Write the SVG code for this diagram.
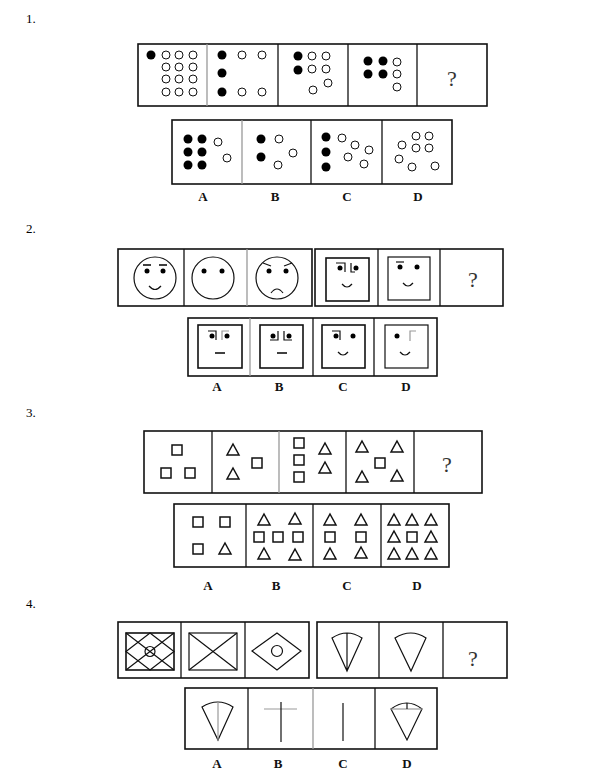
<svg xmlns="http://www.w3.org/2000/svg" xmlns:xlink="http://www.w3.org/1999/xlink" width="611" height="784" viewBox="0 0 611 784">
<style>
.box{fill:none;stroke:#111;stroke-width:1.6}
.dv{stroke:#111;stroke-width:1.3}
.dg{stroke:#999;stroke-width:1.3}
.oc{fill:#fff;stroke:#111;stroke-width:1}
.fc{fill:#000}
.ln{fill:none;stroke:#111;stroke-width:1.2}
.lg{fill:none;stroke:#999;stroke-width:1.2}
.th{fill:none;stroke:#111;stroke-width:1.6}
.num{font-family:"Liberation Serif",serif;font-size:13px;fill:#000}
.lab{font-family:"Liberation Serif",serif;font-size:13px;font-weight:bold;fill:#111;text-anchor:middle}
.q{font-family:"Liberation Serif",serif;font-size:22px;fill:#333;text-anchor:middle}
.shape{fill:#fff;stroke:#111;stroke-width:1.5}
</style>
<defs>
<path id="tri" d="M0,-6 L6,5 L-6,5 Z" class="shape"/>
<rect id="sq" x="-5" y="-5" width="10" height="10" class="shape"/>
</defs>

<text class="num" x="26" y="23">1.</text>
<text class="num" x="26" y="233">2.</text>
<text class="num" x="26" y="417">3.</text>
<text class="num" x="26" y="608">4.</text>

<g id="p1-row">
<rect class="box" x="138" y="44" width="349" height="62"/>
<line class="dg" x1="207" y1="44" x2="207" y2="106"/>
<line class="dv" x1="278" y1="44" x2="278" y2="106"/>
<line class="dv" x1="348" y1="44" x2="348" y2="106"/>
<line class="dv" x1="417" y1="44" x2="417" y2="106"/>
<g id="p1c1">
<circle class="fc" cx="151" cy="55" r="4.5"/>
<circle class="oc" cx="166" cy="55" r="4"/><circle class="oc" cx="179" cy="55" r="4"/><circle class="oc" cx="193" cy="55" r="4"/>
<circle class="oc" cx="166" cy="67" r="4"/><circle class="oc" cx="179" cy="67" r="4"/><circle class="oc" cx="193" cy="67" r="4"/>
<circle class="oc" cx="166" cy="79" r="4"/><circle class="oc" cx="179" cy="79" r="4"/><circle class="oc" cx="193" cy="79" r="4"/>
<circle class="oc" cx="166" cy="92" r="4"/><circle class="oc" cx="179" cy="92" r="4"/><circle class="oc" cx="193" cy="92" r="4"/>
</g>
<g id="p1c2">
<circle class="fc" cx="222" cy="55" r="4.5"/><circle class="fc" cx="222" cy="73" r="4.5"/><circle class="fc" cx="222" cy="92" r="4.5"/>
<circle class="oc" cx="242" cy="55" r="4"/><circle class="oc" cx="262" cy="55" r="4"/>
<circle class="oc" cx="242" cy="92" r="4"/><circle class="oc" cx="262" cy="92" r="4"/>
</g>
<g id="p1c3">
<circle class="fc" cx="298" cy="56" r="4.5"/><circle class="fc" cx="298" cy="70" r="4.5"/>
<circle class="oc" cx="312" cy="56" r="4"/><circle class="oc" cx="326" cy="56" r="4"/>
<circle class="oc" cx="312" cy="69" r="4"/><circle class="oc" cx="326" cy="69" r="4"/>
<circle class="oc" cx="313" cy="90" r="4"/><circle class="oc" cx="328" cy="83" r="4"/>
</g>
<g id="p1c4">
<circle class="fc" cx="368" cy="61" r="4.5"/><circle class="fc" cx="383" cy="61" r="4.5"/>
<circle class="fc" cx="368" cy="74" r="4.5"/><circle class="fc" cx="383" cy="74" r="4.5"/>
<circle class="oc" cx="397" cy="62" r="4"/><circle class="oc" cx="397" cy="74" r="4"/><circle class="oc" cx="397" cy="87" r="4"/>
</g>
<text class="q" x="452" y="86">?</text>
</g>

<g id="p1-answers">
<rect class="box" x="172" y="120" width="280" height="64"/>
<line class="dg" x1="242" y1="120" x2="242" y2="184"/>
<line class="dv" x1="311" y1="120" x2="311" y2="184"/>
<line class="dv" x1="382" y1="120" x2="382" y2="184"/>
<g id="p1a">
<circle class="fc" cx="188" cy="139" r="4.5"/><circle class="fc" cx="202" cy="139" r="4.5"/>
<circle class="fc" cx="188" cy="152" r="4.5"/><circle class="fc" cx="202" cy="152" r="4.5"/>
<circle class="fc" cx="188" cy="165" r="4.5"/><circle class="fc" cx="202" cy="165" r="4.5"/>
<circle class="oc" cx="218" cy="142" r="4"/><circle class="oc" cx="227" cy="158" r="4"/>
</g>
<g id="p1b">
<circle class="fc" cx="261" cy="139" r="4.5"/><circle class="fc" cx="261" cy="157" r="4.5"/>
<circle class="oc" cx="279" cy="139" r="4"/><circle class="oc" cx="293" cy="153" r="4"/><circle class="oc" cx="278" cy="165" r="4"/>
</g>
<g id="p1c">
<circle class="fc" cx="326" cy="137" r="4.5"/><circle class="fc" cx="326" cy="152" r="4.5"/><circle class="fc" cx="326" cy="167" r="4.5"/>
<circle class="oc" cx="342" cy="138" r="4"/><circle class="oc" cx="355" cy="145" r="4"/><circle class="oc" cx="369" cy="150" r="4"/>
<circle class="oc" cx="348" cy="157" r="4"/><circle class="oc" cx="364" cy="164" r="4"/>
</g>
<g id="p1d">
<circle class="oc" cx="416" cy="136" r="4"/><circle class="oc" cx="429" cy="136" r="4"/>
<circle class="oc" cx="402" cy="145" r="4"/><circle class="oc" cx="416" cy="148" r="4"/><circle class="oc" cx="429" cy="148" r="4"/>
<circle class="oc" cx="399" cy="159" r="4"/><circle class="oc" cx="412" cy="167" r="4"/><circle class="oc" cx="435" cy="166" r="4"/>
</g>
<text class="lab" x="203" y="201">A</text>
<text class="lab" x="275" y="201">B</text>
<text class="lab" x="347" y="201">C</text>
<text class="lab" x="418" y="201">D</text>
</g>

<g id="p2-row">
<rect class="box" x="118" y="249" width="194" height="57"/>
<line class="dv" x1="184" y1="249" x2="184" y2="306"/>
<line class="dg" x1="247" y1="249" x2="247" y2="306"/>
<rect class="box" x="315" y="249" width="188" height="57"/>
<line class="dv" x1="378" y1="249" x2="378" y2="306"/>
<line class="dv" x1="440" y1="249" x2="440" y2="306"/>
<g id="p2c1">
<circle class="ln" cx="155" cy="278" r="21"/>
<circle class="fc" cx="147" cy="271" r="2.5"/><circle class="fc" cx="163" cy="271" r="2.5"/>
<line class="th" x1="143" y1="265" x2="151" y2="265"/><line class="th" x1="159" y1="265" x2="167" y2="265"/>
<path class="ln" d="M149,286 Q155,293 161,286"/>
</g>
<g id="p2c2">
<circle class="ln" cx="213" cy="278" r="21"/>
<circle class="fc" cx="204" cy="271" r="2.5"/><circle class="fc" cx="222" cy="271" r="2.5"/>
</g>
<g id="p2c3">
<circle class="ln" cx="277" cy="278" r="21"/>
<circle class="fc" cx="269" cy="271" r="2.5"/><circle class="fc" cx="286" cy="271" r="2.5"/>
<line class="ln" x1="263" y1="263" x2="271" y2="266"/><line class="ln" x1="284" y1="266" x2="292" y2="263"/>
<path class="ln" d="M271,293 Q277,285 283,293"/>
</g>
<g id="p2c4">
<rect class="th" x="326" y="258" width="43" height="43"/>
<circle class="fc" cx="340" cy="268" r="2.5"/>
<path class="ln" d="M336,263 H345 V272"/>
<circle class="fc" cx="356" cy="268" r="2.5"/>
<path class="ln" d="M351,263 V272 H355"/>
<path class="ln" d="M342,284 Q347,290 352,284"/>
</g>
<g id="p2c5">
<rect class="ln" x="388" y="257" width="42" height="43"/>
<circle class="fc" cx="400" cy="267" r="2.5"/>
<line class="ln" x1="396" y1="262" x2="404" y2="262"/>
<circle class="fc" cx="417" cy="267" r="2.5"/>
<path class="ln" d="M403,283 Q408,289 413,283"/>
</g>
<text class="q" x="473" y="287">?</text>
</g>

<g id="p2-answers">
<rect class="box" x="188" y="318" width="249" height="58"/>
<line class="dg" x1="250" y1="318" x2="250" y2="376"/>
<line class="dv" x1="313" y1="318" x2="313" y2="376"/>
<line class="dv" x1="374" y1="318" x2="374" y2="376"/>
<g id="p2a">
<rect class="th" x="198" y="325" width="44" height="43"/>
<circle class="fc" cx="212" cy="336" r="2.5"/><path class="ln" d="M208,331 H216 V340"/>
<circle class="fc" cx="227" cy="336" r="2.5"/><path class="lg" d="M222,340 V331 H229"/>
<line class="th" x1="215" y1="353" x2="225" y2="353"/>
</g>
<g id="p2b">
<rect class="th" x="260" y="325" width="43" height="43"/>
<circle class="fc" cx="273" cy="336" r="2.5"/><path class="ln" d="M270,340 H278 V331"/>
<circle class="fc" cx="289" cy="336" r="2.5"/><path class="ln" d="M284,331 V340 H292"/>
<line class="th" x1="277" y1="353" x2="287" y2="353"/>
</g>
<g id="p2c">
<rect class="th" x="322" y="325" width="43" height="43"/>
<circle class="fc" cx="336" cy="336" r="2.5"/><path class="ln" d="M332,331 H340 V340"/>
<circle class="fc" cx="353" cy="336" r="2.5"/>
<path class="ln" d="M338,352 Q343,358 348,352"/>
</g>
<g id="p2d">
<rect class="ln" x="385" y="325" width="43" height="43"/>
<circle class="fc" cx="397" cy="336" r="2.5"/>
<path class="lg" d="M410,341 V331 H416"/>
<path class="ln" d="M400,352 Q405,358 410,352"/>
</g>
<text class="lab" x="217" y="391">A</text>
<text class="lab" x="279" y="391">B</text>
<text class="lab" x="343" y="391">C</text>
<text class="lab" x="406" y="391">D</text>
</g>

<g id="p3-row">
<rect class="box" x="144" y="431" width="338" height="62"/>
<line class="dv" x1="212" y1="431" x2="212" y2="493"/>
<line class="dg" x1="279" y1="431" x2="279" y2="493"/>
<line class="dv" x1="346" y1="431" x2="346" y2="493"/>
<line class="dv" x1="414" y1="431" x2="414" y2="493"/>
<g id="p3c1">
<use xlink:href="#sq" x="177" y="450"/><use xlink:href="#sq" x="166" y="473"/><use xlink:href="#sq" x="190" y="473"/>
</g>
<g id="p3c2">
<use xlink:href="#tri" x="233" y="450"/><use xlink:href="#tri" x="233" y="474"/><use xlink:href="#sq" x="257" y="463"/>
</g>
<g id="p3c3">
<use xlink:href="#sq" x="299" y="443"/><use xlink:href="#sq" x="299" y="460"/><use xlink:href="#sq" x="299" y="477"/>
<use xlink:href="#tri" x="325" y="449"/><use xlink:href="#tri" x="325" y="468"/>
</g>
<g id="p3c4">
<use xlink:href="#tri" x="362" y="447"/><use xlink:href="#tri" x="397" y="447"/>
<use xlink:href="#tri" x="362" y="477"/><use xlink:href="#tri" x="397" y="476"/>
<use xlink:href="#sq" x="380" y="463"/>
</g>
<text class="q" x="447" y="472">?</text>
</g>

<g id="p3-answers">
<rect class="box" x="174" y="504" width="275" height="63"/>
<line class="dv" x1="246" y1="504" x2="246" y2="567"/>
<line class="dv" x1="313" y1="504" x2="313" y2="567"/>
<line class="dv" x1="381" y1="504" x2="381" y2="567"/>
<g id="p3a">
<use xlink:href="#sq" x="198" y="522"/><use xlink:href="#sq" x="225" y="522"/>
<use xlink:href="#sq" x="198" y="549"/><use xlink:href="#tri" x="225" y="549"/>
</g>
<g id="p3b">
<use xlink:href="#tri" x="264" y="520"/><use xlink:href="#tri" x="295" y="519"/>
<use xlink:href="#sq" x="259" y="537"/><use xlink:href="#sq" x="278" y="537"/><use xlink:href="#sq" x="298" y="537"/>
<use xlink:href="#tri" x="264" y="554"/><use xlink:href="#tri" x="295" y="555"/>
</g>
<g id="p3c">
<use xlink:href="#tri" x="330" y="520"/><use xlink:href="#tri" x="361" y="520"/>
<use xlink:href="#sq" x="330" y="537"/><use xlink:href="#sq" x="361" y="537"/>
<use xlink:href="#tri" x="330" y="554"/><use xlink:href="#tri" x="361" y="553"/>
</g>
<g id="p3d">
<use xlink:href="#tri" x="394" y="520"/><use xlink:href="#tri" x="412" y="520"/><use xlink:href="#tri" x="431" y="520"/>
<use xlink:href="#tri" x="394" y="537"/><use xlink:href="#sq" x="412" y="537"/><use xlink:href="#tri" x="431" y="537"/>
<use xlink:href="#tri" x="394" y="554"/><use xlink:href="#tri" x="412" y="554"/><use xlink:href="#tri" x="431" y="554"/>
</g>
<text class="lab" x="208" y="590">A</text>
<text class="lab" x="276" y="590">B</text>
<text class="lab" x="347" y="590">C</text>
<text class="lab" x="417" y="590">D</text>
</g>

<g id="p4-row">
<rect class="box" x="118" y="622" width="191" height="56"/>
<line class="dv" x1="181" y1="622" x2="181" y2="678"/>
<line class="dv" x1="245" y1="622" x2="245" y2="678"/>
<rect class="box" x="317" y="622" width="190" height="56"/>
<line class="dv" x1="379" y1="622" x2="379" y2="678"/>
<line class="dv" x1="443" y1="622" x2="443" y2="678"/>
<g id="p4c1">
<rect class="th" x="126" y="633" width="48" height="37"/>
<path class="ln" d="M126,633 L174,670 M174,633 L126,670 M150,633 L174,651.5 L150,670 L126,651.5 Z"/>
<circle class="ln" cx="150" cy="651.5" r="5"/>
</g>
<g id="p4c2">
<rect class="ln" x="189" y="633" width="48" height="37"/>
<path class="ln" d="M189,633 L237,670 M237,633 L189,670" stroke-width="0.9"/>
</g>
<g id="p4c3">
<path class="ln" d="M252,651 L277,633 L301,651 L277,670 Z"/>
<circle class="ln" cx="277" cy="651" r="5.5"/>
</g>
<g id="p4c4">
<path class="ln" d="M332,638 Q347,628 362,638 L347,671 Z M347,633 V671"/>
</g>
<g id="p4c5">
<path class="ln" d="M395,638 Q411,628 426,638 L411,671 Z"/>
</g>
<text class="q" x="473" y="666">?</text>
</g>

<g id="p4-answers">
<rect class="box" x="185" y="688" width="252" height="61"/>
<line class="dv" x1="248" y1="688" x2="248" y2="749"/>
<line class="dg" x1="313" y1="688" x2="313" y2="749"/>
<line class="dv" x1="375" y1="688" x2="375" y2="749"/>
<g id="p4a">
<path class="ln" d="M202,707 Q218,697 233,707 L218,740 Z"/>
<line class="lg" x1="218" y1="702" x2="218" y2="740"/>
</g>
<g id="p4b">
<line class="lg" x1="264" y1="709" x2="297" y2="709"/>
<line class="ln" x1="281" y1="702" x2="281" y2="742"/>
</g>
<g id="p4c">
<line class="ln" x1="343" y1="703" x2="343" y2="741"/>
</g>
<g id="p4d">
<path class="ln" d="M391,709 Q407,697 422,709 L407,740 Z"/>
<line class="lg" x1="391" y1="709" x2="422" y2="709"/>
<line class="ln" x1="407" y1="703" x2="407" y2="709"/>
</g>
<text class="lab" x="217" y="768">A</text>
<text class="lab" x="278" y="768">B</text>
<text class="lab" x="343" y="768">C</text>
<text class="lab" x="407" y="768">D</text>
</g>
</svg>
